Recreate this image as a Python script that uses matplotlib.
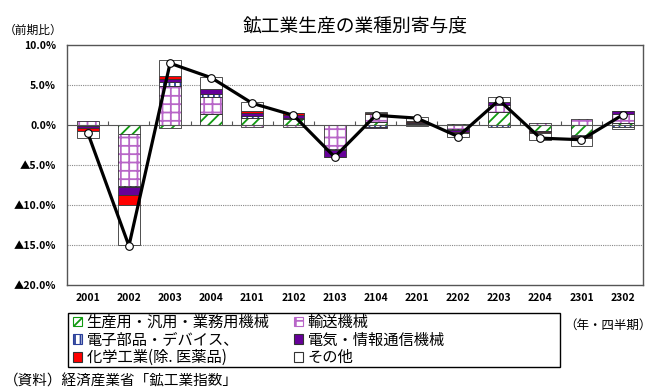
import numpy as np
import matplotlib
matplotlib.use("Agg")
import matplotlib.pyplot as plt
from matplotlib.patches import Patch, Rectangle

plt.rcParams['font.family'] = ['Noto Sans CJK JP', 'DejaVu Sans']
plt.rcParams['hatch.linewidth'] = 1.3

# data (% contribution, quarter on quarter)
quarters = ['2001', '2002', '2003', '2004', '2101', '2102', '2103',
            '2104', '2201', '2202', '2203', '2204', '2301', '2302']
seisan = [-0.1, -1.1, -0.35, 1.4, 0.85, 0.7, -0.05, 0.4, 0.1, 0.1, 1.6, -0.7, -1.3, 0.3]
yuso = [0.5, -6.5, 4.9, 2.05, -0.2, -0.3, -3.0, 1.0, 0.2, -0.5, 0.85, 0.2, 0.75, 1.1]
denshi = [-0.05, -0.2, 0.45, 0.4, 0.3, 0.2, -0.1, -0.2, -0.1, -0.1, -0.3, -0.05, -0.05, -0.25]
denki = [-0.25, -0.95, 0.4, 0.6, 0.3, 0.35, -0.8, -0.2, 0.1, -0.3, 0.4, -0.15, -0.15, 0.3]
kagaku = [-0.3, -1.2, 0.35, 0.05, 0.35, 0.2, -0.05, 0.1, 0.05, -0.15, 0.05, -0.1, -0.15, 0.1]
sonota = [-0.9, -5.1, 2.0, 1.5, 1.1, 0.05, 0.0, 0.15, 0.5, -0.5, 0.55, -0.85, -0.95, -0.3]
total = [-1.0, -15.1, 7.7, 5.9, 2.7, 1.2, -4.0, 1.2, 0.85, -1.45, 3.1, -1.65, -1.85, 1.25]

names = ['生産用・汎用・業務用機械', '輸送機械', '電子部品・デバイス、',
         '電気・情報通信機械', '化学工業(除. 医薬品)', 'その他']
series = [seisan, yuso, denshi, denki, kagaku, sonota]
# (face, hatch, hatch colour)
styles = [('white', '///', '#109a10'),
          ('white', '++', '#b866c8'),
          ('white', '|||', '#2a3f9a'),
          ('#660099', None, None),
          ('#ff0000', None, None),
          ('white', None, None)]

fig = plt.figure(figsize=(6.59, 3.9), dpi=100)
ax = fig.add_axes([0.102, 0.269, 0.874, 0.616])

x = np.arange(len(quarters))
w = 0.53
pos_base = np.zeros(len(x))
neg_base = np.zeros(len(x))
for vals, (fc, hatch, hc) in zip(series, styles):
    v = np.array(vals)
    bottom = np.where(v >= 0, pos_base, neg_base)
    if hatch:
        ax.bar(x, v, w, bottom=bottom, color=fc, hatch=hatch,
               edgecolor=hc, linewidth=0, zorder=2)
        ax.bar(x, v, w, bottom=bottom, color='none',
               edgecolor='#333333', linewidth=0.6, zorder=2)
    else:
        ax.bar(x, v, w, bottom=bottom, color=fc,
               edgecolor='#333333', linewidth=0.6, zorder=2)
    pos_base += np.clip(v, 0, None)
    neg_base += np.clip(v, None, 0)

ax.plot(x, total, color='black', lw=2.3, marker='o', ms=5.5,
        mfc='white', mec='black', mew=0.8, zorder=4)

ax.set_xlim(-0.5, len(x) - 0.5)
ax.set_ylim(-20, 10)
yt = np.arange(-20, 10.1, 5)
ax.set_yticks(yt)
ax.set_yticklabels([('▲' if t < 0 else '') + f'{abs(t):.1f}%' for t in yt],
                   fontsize=7.5, fontweight='bold')
ax.tick_params(axis='y', length=0, pad=8)
for t in yt[1:-1]:
    if t != 0:
        ax.axhline(t, color='#888888', lw=0.8, ls=(0, (1, 1)), zorder=1)
ax.axhline(0, color='#555555', lw=0.8, zorder=3)
# category boundary ticks on the zero line
ax.vlines(x[:-1] + 0.5, 0, 0.5, color='#555555', lw=0.8, zorder=3)

ax.set_xticks(x)
ax.set_xticklabels(quarters, fontsize=7.5, fontweight='bold')
ax.tick_params(axis='x', length=0, pad=6)

for s in ax.spines.values():
    s.set_color('#555555')
    s.set_linewidth(1.0)

ax.set_title('鉱工業生産の業種別寄与度', fontsize=13.5, pad=9)
fig.text(0.006, 0.922, '（前期比）', fontsize=8.5, va='center')
fig.text(0.857, 0.167, '（年・四半期）', fontsize=9, va='center')
fig.text(0.006, 0.022, '（資料）経済産業省「鉱工業指数」', fontsize=10.5, va='center')

# legend box
fig.patches.append(Rectangle((68 / 659, 1 - 367 / 390), 492 / 659, 54 / 390,
                             transform=fig.transFigure, fill=False,
                             edgecolor='black', lw=1.0))
handles = []
for fc, hatch, hc in styles:
    if hatch:
        handles.append(Patch(facecolor=fc, hatch=hatch, edgecolor=hc, lw=0.8))
    else:
        handles.append(Patch(facecolor=fc, edgecolor='#333333', lw=0.8))
order = [0, 2, 4, 1, 3, 5]
leg = fig.legend([handles[i] for i in order], [names[i] for i in order],
                 ncol=2, loc='upper left',
                 bbox_to_anchor=(72 / 659, 1 - 313 / 390),
                 fontsize=11, frameon=False,
                 handlelength=0.6, handleheight=0.6, handletextpad=0.3,
                 labelspacing=0.05, borderpad=0.05, borderaxespad=0,
                 columnspacing=1.6)

fig.savefig('out.png', dpi=100)
